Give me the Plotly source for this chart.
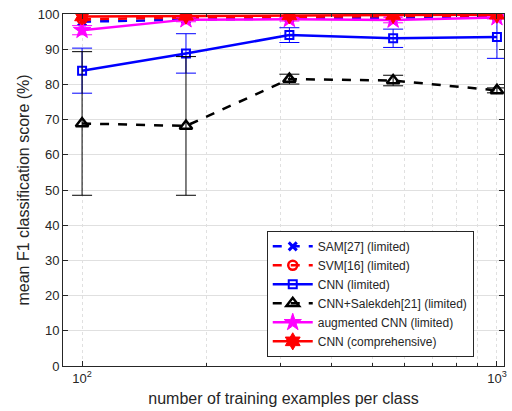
import plotly.graph_objects as go

x = [100, 178, 316, 562, 1000]

sam = [97.8, 98.4, 98.7, 98.9, 99.2]
svm = [98.5, 99.0, 99.2, 99.4, 99.6]
cnn = [83.9, 88.8, 94.0, 93.1, 93.5]
cnn_err = [6.4, 5.6, 2.1, 2.6, 6.1]
sal = [68.9, 68.2, 81.5, 81.1, 78.3]
sal_err = [20.4, 19.7, 1.4, 1.5, 0.7]
aug = [95.4, 98.4, 98.5, 98.3, 99.0]
aug_err = [1.3, 0.6, 0.5, 0.8, 0.4]
comp = [99.3, 99.5, 99.6, 99.7, 99.8]

names = ["SAM[27] (limited)", "SVM[16] (limited)", "CNN (limited)",
         "CNN+Salekdeh[21] (limited)", "augmented CNN (limited)", "CNN (comprehensive)"]

fig = go.Figure()

def err(vals, color):
    return dict(type="data", array=vals, visible=True, color=color, thickness=1, width=10)

fig.add_trace(go.Scatter(x=x, y=sam, name=names[0], mode="lines+markers",
    line=dict(color="blue", width=2.5, dash="dash"),
    marker=dict(symbol="x-thin-open", size=8, line=dict(color="blue", width=3), color="blue")))
fig.add_trace(go.Scatter(x=x, y=svm, name=names[1], mode="lines+markers",
    line=dict(color="red", width=2.5, dash="dash"),
    marker=dict(symbol="circle-open", size=9, line=dict(color="red", width=2.5), color="red")))
fig.add_trace(go.Scatter(x=x, y=cnn, name=names[2], mode="lines+markers",
    line=dict(color="blue", width=2.5), error_y=err(cnn_err, "blue"),
    marker=dict(symbol="square-open", size=8, line=dict(color="blue", width=2), color="blue")))
fig.add_trace(go.Scatter(x=x, y=sal, name=names[3], mode="lines+markers",
    line=dict(color="black", width=2.5, dash="dash"), error_y=err(sal_err, "black"),
    marker=dict(symbol="triangle-up-open", size=11, line=dict(color="black", width=2.5), color="black")))
fig.add_trace(go.Scatter(x=x, y=aug, name=names[4], mode="lines+markers",
    line=dict(color="magenta", width=2.5), error_y=err(aug_err, "magenta"),
    marker=dict(symbol="star", size=13, color="magenta", line=dict(color="magenta", width=1))))
fig.add_trace(go.Scatter(x=x, y=comp, name=names[5], mode="lines+markers",
    line=dict(color="red", width=2.5),
    marker=dict(symbol="hexagram", size=13, color="red", line=dict(color="red", width=1))))

fig.update_layout(
    width=512, height=411,
    margin=dict(l=63, r=5, t=14, b=45),
    paper_bgcolor="white", plot_bgcolor="white",
    font=dict(family="Liberation Sans, Arial, sans-serif", size=13, color="#262626"),
    showlegend=True,
    legend=dict(x=0.462, y=0.026, xanchor="left", yanchor="bottom",
                bgcolor="white", bordercolor="#262626", borderwidth=1,
                font=dict(size=12, color="#262626"), tracegroupgap=0, itemwidth=40),
)
fig.update_xaxes(type="log", range=[1.954, 3.017],
    tickmode="array", tickvals=[100, 1000], ticktext=["10<sup>2</sup>", "10<sup>3</sup>"],
    ticks="inside", ticklen=5, tickcolor="#262626", mirror="ticks",
    showline=True, linecolor="#262626", linewidth=1,
    showgrid=True, gridcolor="#e0e0e0", griddash="dot", gridwidth=1,
    minor=dict(tickmode="array", tickvals=[200, 300, 400, 500, 600, 700, 800, 900],
               ticks="inside", ticklen=3, tickcolor="#262626",
               showgrid=True, gridcolor="#e0e0e0", griddash="dot", gridwidth=1),
    title=dict(text="number of training examples per class", standoff=8),
    zeroline=False)
fig.update_yaxes(range=[0, 100], tickmode="array", tickvals=list(range(0, 101, 10)),
    ticks="inside", ticklen=5, tickcolor="#262626", mirror="ticks",
    showline=True, linecolor="#262626", linewidth=1,
    showgrid=True, gridcolor="#e0e0e0", gridwidth=1,
    title=dict(text="mean F1 classification score (%)", standoff=4),
    zeroline=False)

fig.write_html("out.html", config={"displayModeBar": False},
               post_script="document.body.style.margin='0';document.body.style.overflow='hidden';")
